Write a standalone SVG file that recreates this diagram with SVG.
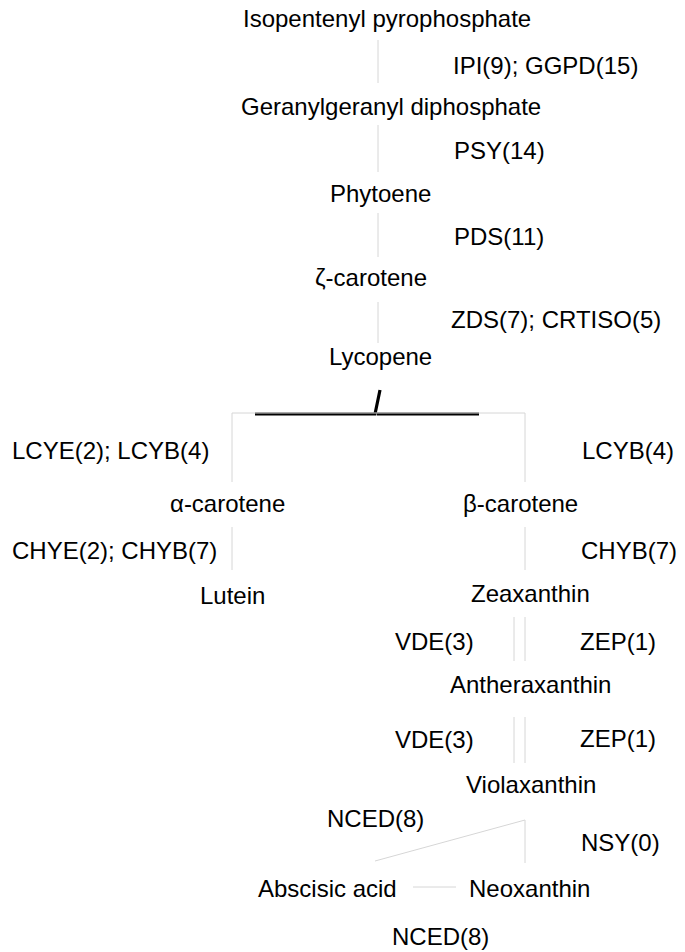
<svg xmlns="http://www.w3.org/2000/svg" width="685" height="952" viewBox="0 0 685 952">
<style>
text{font-family:"Liberation Sans",Arial,sans-serif;font-size:24px;fill:#000}
.c{stroke:#d6d6d6;stroke-width:1;fill:none}
.b{stroke:#000;stroke-width:3.2;fill:none}
</style>
<rect width="685" height="952" fill="#fff"/>
<g id="connectors">
<line class="c" x1="378" y1="40" x2="378" y2="83"/>
<line class="c" x1="378" y1="125" x2="378" y2="172"/>
<line class="c" x1="378" y1="213" x2="378" y2="257"/>
<line class="c" x1="378" y1="302" x2="378" y2="343"/>
<path class="b" d="M255,414 H375 L380,390 M377,414 H479"/>
<path class="c" d="M232,482 V413 H525 V482"/>
<line class="c" x1="232" y1="527" x2="232" y2="570"/>
<line class="c" x1="525" y1="527" x2="525" y2="570"/>
<line class="c" x1="514" y1="617" x2="514" y2="661"/>
<line class="c" x1="525" y1="617" x2="525" y2="661"/>
<line class="c" x1="514" y1="717" x2="514" y2="763"/>
<line class="c" x1="525" y1="717" x2="525" y2="763"/>
<path class="c" d="M375,861 L525,820 V863"/>
<line class="c" x1="413" y1="887" x2="456" y2="887"/>
</g>
<g id="n-ipp"><text x="243" y="27">Isopentenyl pyrophosphate</text></g>
<g id="n-ggpp"><text x="241" y="115">Geranylgeranyl diphosphate</text></g>
<g id="n-phytoene"><text x="330" y="202">Phytoene</text></g>
<g id="n-zeta"><text x="315" y="286">ζ-carotene</text></g>
<g id="n-lycopene"><text x="329" y="365">Lycopene</text></g>
<g id="n-alpha"><text x="170" y="512">α-carotene</text></g>
<g id="n-beta"><text x="463" y="512">β-carotene</text></g>
<g id="n-lutein"><text x="200" y="604">Lutein</text></g>
<g id="n-zeaxanthin"><text x="471" y="602">Zeaxanthin</text></g>
<g id="n-antheraxanthin"><text x="450" y="693">Antheraxanthin</text></g>
<g id="n-violaxanthin"><text x="466" y="793">Violaxanthin</text></g>
<g id="n-aba"><text x="258" y="897">Abscisic acid</text></g>
<g id="n-neoxanthin"><text x="469" y="897">Neoxanthin</text></g>
<g id="labels">
<text x="453" y="74">IPI(9); GGPD(15)</text>
<text x="454" y="159">PSY(14)</text>
<text x="454" y="245">PDS(11)</text>
<text x="451" y="328">ZDS(7); CRTISO(5)</text>
<text x="12" y="459">LCYE(2); LCYB(4)</text>
<text x="582" y="459">LCYB(4)</text>
<text x="12" y="559">CHYE(2); CHYB(7)</text>
<text x="581" y="559">CHYB(7)</text>
<text x="395" y="650">VDE(3)</text>
<text x="580" y="650">ZEP(1)</text>
<text x="395" y="748">VDE(3)</text>
<text x="580" y="747">ZEP(1)</text>
<text x="327" y="827">NCED(8)</text>
<text x="581" y="851">NSY(0)</text>
<text x="392" y="945">NCED(8)</text>
</g>
</svg>
